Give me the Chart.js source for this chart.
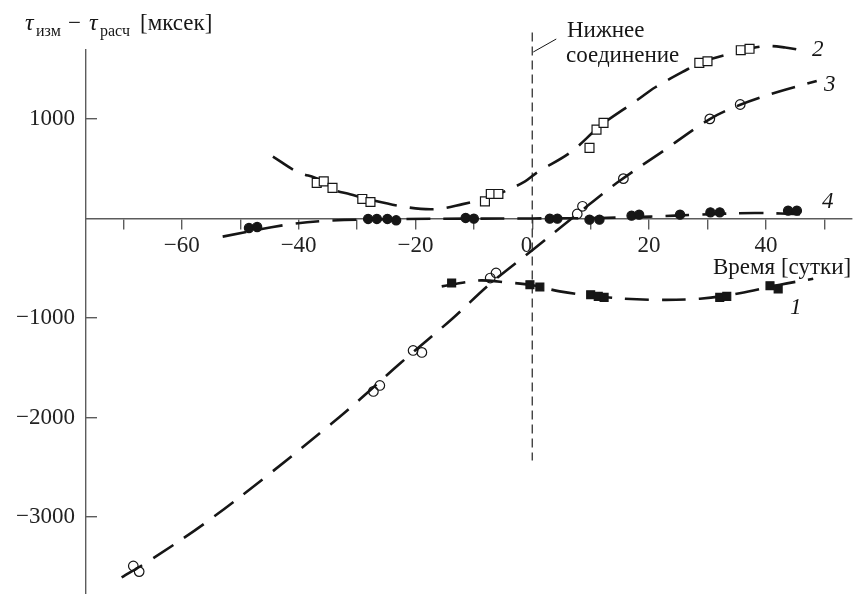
<!DOCTYPE html>
<html>
<head>
<meta charset="utf-8">
<script src="https://cdn.jsdelivr.net/npm/chart.js@4.4.0/dist/chart.umd.min.js"></script>
<style>
  html, body { margin: 0; padding: 0; background: #fff; }
  canvas { display: block; }
</style>
</head>
<body>
<canvas id="chart" width="857" height="594"></canvas>
<script>
// Timing residuals (measured - computed) around inferior conjunction.
const SERIF = "'Liberation Serif', 'DejaVu Serif', serif";
const INK = "#161616";
const AXIS = "#5c5c5c";

// series 1: filled squares
const s1Days = [-13.8, -0.4, 1.3, 10.0, 11.3, 12.3, 32.1, 33.3, 40.7, 42.1];
const s1Delay = [-647, -664, -687, -765, -781, -792, -792, -781, -674, -707];
// series 2: open squares
const s2Days = [-36.9, -35.7, -34.2, -29.1, -27.7, -8.1, -7.1, -5.8, 9.8, 11.0, 12.2, 28.6, 30.0, 35.7, 37.2];
const s2Delay = [359, 375, 309, 198, 167, 173, 248, 248, 711, 895, 963, 1566, 1582, 1693, 1707];
// series 3: open circles
const s3Days = [-68.3, -67.3, -27.2, -26.1, -20.4, -18.9, -7.2, -6.2, 7.7, 8.6, 15.6, 30.4, 35.6];
const s3Delay = [-3491, -3548, -1737, -1677, -1325, -1345, -597, -546, 47, 124, 402, 1003, 1147];
// series 4: filled circles
const s4Days = [-48.5, -47.1, -28.1, -26.6, -24.8, -23.3, -11.4, -10.0, 3.0, 4.3, 9.8, 11.5, 17.0, 18.3, 25.3, 30.5, 32.1, 43.8, 45.3];
const s4Delay = [-94, -84, -3, -3, -3, -17, 7, 0, 0, 0, -10, -10, 30, 40, 40, 63, 63, 80, 80];

// fitted curves
const c1Days = [-15.5, -11.2, -8.7, -4.4, 0, 4.7, 11.6, 20.2, 28.7, 35.5, 42.4, 48.1];
const c1Delay = [-681, -637, -621, -641, -669, -731, -785, -815, -805, -750, -664, -604];
const c2Days = [-44.4, -40.3, -36.4, -34.1, -31.2, -27.8, -21.0, -16.4, -11.9, -8.4, -5.2, -1.3, 0.8, 6.5, 10.9, 12.1, 18.1, 21.0, 26.5, 29.2, 34.7, 37.3, 40.2, 43.3, 46.4];
const c2Delay = [624, 473, 392, 292, 246, 191, 111, 96, 146, 196, 262, 372, 463, 664, 895, 956, 1197, 1318, 1499, 1579, 1670, 1710, 1735, 1720, 1690];
const c3Days = [-70.3, -65.5, -56.1, -45.3, -34.5, -29.3, -22.6, -13.6, -7.3, 0, 7.7, 14.5, 21.9, 30.4, 35.5, 42.0, 48.7];
const c3Delay = [-3607, -3436, -3064, -2580, -2067, -1806, -1454, -1001, -659, -317, 45, 360, 659, 1001, 1142, 1273, 1383];
const c4Days = [-53.0, -41.9, -34.6, -22.7, -10.7, 0, 11.6, 20.2, 28.7, 38.1, 47.0];
const c4Delay = [-181, -60, -20, -5, 0, 2, 7, 20, 40, 57, 42];

// conjunction marker and axis ticks
const conjunctionDays = [0, 0];
const conjunctionDelay = [1870, -2430];
const xLabeledTicks = [-60, -40, -20, 0, 20, 40];
const yTickValues = [-3000, -2000, -1000, 0, 1000];
const yLabeledTicks = [-3000, -2000, -1000, 1000];

const toPoints = (xs, ys) => xs.map((x, i) => ({ x, y: ys[i] }));
const minusSign = (v) => (v < 0 ? "\u2212" + Math.abs(v) : String(v));

function curve(xs, ys) {
  return {
    data: toPoints(xs, ys),
    showLine: true,
    pointRadius: 0,
    borderColor: INK,
    borderWidth: 2.6,
    borderDash: [24, 13],
    tension: 0.35,
    clip: false,
    order: 2,
  };
}

function markers(xs, ys, style, radius, fill) {
  return {
    data: toPoints(xs, ys),
    showLine: false,
    pointStyle: style,
    pointRadius: radius,
    pointBackgroundColor: fill,
    pointBorderColor: INK,
    pointBorderWidth: 1.2,
    clip: false,
    order: 0,
  };
}

function putText(ctx, text, x, y, font) {
  ctx.font = font;
  ctx.fillText(text, x, y);
  return x + ctx.measureText(text).width;
}

const labelsPlugin = {
  id: "labels",
  afterDraw(chart) {
    const { ctx, scales } = chart;
    const x0 = scales.x.getPixelForValue(0);
    ctx.save();
    ctx.fillStyle = INK;
    ctx.textBaseline = "alphabetic";
    ctx.textAlign = "left";

    // y axis title
    putText(ctx, "τ", 25, 30, "italic 24px " + SERIF);
    putText(ctx, "изм", 36, 36, "16px " + SERIF);
    putText(ctx, "\u2212", 68, 30, "23px " + SERIF);
    putText(ctx, "τ", 89, 30, "italic 24px " + SERIF);
    putText(ctx, "расч", 100, 36, "16px " + SERIF);
    putText(ctx, "[мксек]", 140, 30, "23px " + SERIF);

    // x axis title
    putText(ctx, "Время [сутки]", 713, 274, "23px " + SERIF);

    // conjunction note
    putText(ctx, "Нижнее", 567, 37, "23px " + SERIF);
    putText(ctx, "соединение", 566, 62, "23px " + SERIF);
    ctx.strokeStyle = INK;
    ctx.lineWidth = 1;
    ctx.beginPath();
    ctx.moveTo(x0 + 1, 52);
    ctx.lineTo(x0 + 24, 39);
    ctx.stroke();

    // curve numbers
    const italic = "italic 23px " + SERIF;
    putText(ctx, "2", 812, 56, italic);
    putText(ctx, "3", 824, 91, italic);
    putText(ctx, "4", 822, 208, italic);
    putText(ctx, "1", 790, 314, italic);
    ctx.restore();
  },
};

new Chart(document.getElementById("chart"), {
  type: "scatter",
  data: {
    datasets: [
      markers(s1Days, s1Delay, "rect", 5.6, INK),
      markers(s2Days, s2Delay, "rect", 6.3, "#ffffff"),
      markers(s3Days, s3Delay, "circle", 4.8, "rgba(0,0,0,0)"),
      markers(s4Days, s4Delay, "circle", 4.6, INK),
      curve(c1Days, c1Delay),
      curve(c2Days, c2Delay),
      curve(c3Days, c3Delay),
      curve(c4Days, c4Delay),
      {
        data: toPoints(conjunctionDays, conjunctionDelay),
        showLine: true,
        pointRadius: 0,
        borderColor: "#333",
        borderWidth: 1.3,
        borderDash: [9, 5],
        clip: false,
        order: 3,
      },
    ],
  },
  options: {
    responsive: false,
    animation: false,
    layout: { autoPadding: false, padding: { left: 0, right: 5, top: 50, bottom: 0 } },
    plugins: {
      legend: { display: false },
      tooltip: { enabled: false },
    },
    scales: {
      x: {
        type: "linear",
        position: { y: 0 },
        min: -76.4,
        max: 54.74,
        afterFit(scale) {
          scale.paddingLeft = 0;
          scale.paddingRight = 0;
          scale.paddingTop = 0;
          scale.paddingBottom = 0;
        },
        border: { display: true, color: AXIS, width: 1.4 },
        grid: { drawOnChartArea: false, drawTicks: true, tickLength: 10, color: AXIS, lineWidth: 1.4 },
        ticks: {
          stepSize: 10,
          includeBounds: false,
          autoSkip: false,
          maxRotation: 0,
          padding: 4,
          color: "#222",
          font: { family: SERIF, size: 23 },
          // the zero label sits just left of the conjunction line
          callback: (v) => (v === 0 ? "0\u2002" : xLabeledTicks.includes(v) ? minusSign(v) : ""),
        },
      },
      y: {
        type: "linear",
        position: "left",
        min: -3773,
        max: 1695,
        afterBuildTicks(scale) {
          scale.ticks = yTickValues.map((value) => ({ value }));
        },
        afterFit(scale) {
          scale.width = 86;
          scale.paddingTop = 0;
          scale.paddingBottom = 0;
        },
        border: { display: true, color: AXIS, width: 1.4 },
        // negative length turns the tick marks inward
        grid: { drawOnChartArea: false, drawTicks: true, tickLength: -11, color: AXIS, lineWidth: 1.4 },
        ticks: {
          autoSkip: false,
          padding: 22,
          color: "#222",
          font: { family: SERIF, size: 23 },
          callback: (v) => (yLabeledTicks.includes(v) ? minusSign(v) : null),
        },
      },
    },
  },
  plugins: [labelsPlugin],
});
</script>
</body>
</html>
